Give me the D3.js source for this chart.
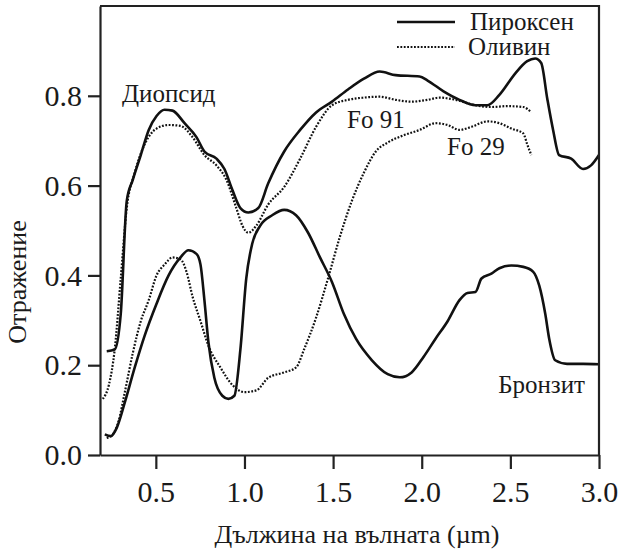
<!DOCTYPE html>
<html>
<head>
<meta charset="utf-8">
<script src="https://cdn.jsdelivr.net/npm/d3@7"></script>
<style>
body{margin:0;background:#fff;}
svg text{font-family:"Liberation Serif","Times New Roman",serif;fill:#1a1a1a;}
</style>
</head>
<body>
<div id="chart"></div>
<script>
const width=621;
const height=551;
// wavelength (um) / reflectance pairs
const diopsideX=[0.223,0.268,0.302,0.336,0.370,0.415,0.460,0.504,0.549,0.594,0.662,0.729,0.774,0.842,0.887,0.932,0.977,1.022,1.078,1.134,1.224,1.314,1.404,1.494,1.584,1.674,1.763,1.853,1.988,2.033,2.123,2.213,2.303,2.371,2.438,2.528,2.595,2.640,2.674,2.708,2.741,2.775,2.843,2.910,2.955,3.000];
const diopsideY=[0.231,0.235,0.314,0.566,0.613,0.668,0.724,0.755,0.769,0.767,0.739,0.708,0.676,0.660,0.637,0.590,0.550,0.540,0.550,0.605,0.676,0.724,0.763,0.787,0.814,0.838,0.854,0.846,0.843,0.834,0.810,0.791,0.779,0.779,0.802,0.850,0.877,0.883,0.873,0.794,0.724,0.668,0.660,0.637,0.645,0.668];
const bronziteX=[0.212,0.246,0.280,0.325,0.381,0.437,0.504,0.572,0.639,0.684,0.729,0.752,0.774,0.797,0.830,0.875,0.909,0.943,0.977,1.010,1.044,1.089,1.156,1.224,1.291,1.359,1.426,1.494,1.561,1.629,1.719,1.808,1.876,1.943,2.011,2.078,2.146,2.213,2.258,2.303,2.337,2.393,2.438,2.506,2.573,2.629,2.663,2.697,2.719,2.753,2.820,2.910,3.000];
const bronziteY=[0.046,0.042,0.061,0.117,0.195,0.266,0.337,0.400,0.440,0.456,0.448,0.424,0.345,0.250,0.172,0.132,0.125,0.132,0.235,0.393,0.471,0.511,0.534,0.546,0.534,0.495,0.440,0.385,0.314,0.259,0.211,0.180,0.173,0.184,0.219,0.259,0.298,0.345,0.361,0.363,0.393,0.404,0.416,0.422,0.419,0.408,0.377,0.314,0.259,0.211,0.203,0.203,0.202];
const fo91X=[0.201,0.235,0.268,0.302,0.336,0.381,0.437,0.504,0.572,0.639,0.707,0.774,0.842,0.898,0.954,0.988,1.022,1.067,1.134,1.224,1.314,1.404,1.494,1.584,1.674,1.763,1.853,1.943,2.033,2.101,2.191,2.303,2.393,2.483,2.573,2.618];
const fo91Y=[0.125,0.156,0.235,0.393,0.550,0.629,0.692,0.727,0.735,0.733,0.708,0.668,0.645,0.613,0.550,0.511,0.495,0.511,0.558,0.597,0.660,0.731,0.779,0.791,0.796,0.798,0.791,0.787,0.791,0.796,0.791,0.779,0.775,0.777,0.775,0.763];
const fo29X=[0.223,0.257,0.291,0.325,0.370,0.415,0.460,0.504,0.549,0.594,0.639,0.673,0.707,0.752,0.797,0.864,0.932,0.999,1.067,1.134,1.224,1.291,1.336,1.404,1.471,1.539,1.606,1.674,1.741,1.808,1.898,1.988,2.078,2.146,2.213,2.281,2.371,2.438,2.506,2.573,2.595,2.618];
const fo29Y=[0.038,0.046,0.077,0.140,0.227,0.298,0.345,0.400,0.424,0.440,0.436,0.408,0.353,0.298,0.243,0.195,0.156,0.140,0.144,0.172,0.184,0.195,0.235,0.306,0.393,0.487,0.566,0.629,0.676,0.696,0.712,0.724,0.739,0.735,0.724,0.731,0.743,0.739,0.727,0.716,0.692,0.668];
const xTicks=[0.5,1.0,1.5,2.0,2.5,3.0];
const yTicks=[0.0,0.2,0.4,0.6,0.8];
const curveNames=["Диопсид","Fo 91","Fo 29","Бронзит"];
const curveLabelX=[0.309,1.579,2.143,2.431];
const curveLabelY=[0.787,0.729,0.669,0.138];
const legendNames=["Пироксен","Оливин"];

const svg=d3.select("#chart").append("svg")
    .attr("width",width).attr("height",height);
const xscale=d3.scaleLinear().domain([0.185,3.0]).range([100,599]);
const yscale=d3.scaleLinear().domain([0,1.0]).range([455,6]);

const series=[
    {x:diopsideX,y:diopsideY,dotted:false},
    {x:bronziteX,y:bronziteY,dotted:false},
    {x:fo91X,y:fo91Y,dotted:true},
    {x:fo29X,y:fo29Y,dotted:true}
];
const line=d3.line().x(d=>xscale(d[0])).y(d=>yscale(d[1])).curve(d3.curveMonotoneX);
series.forEach(s=>{
    svg.append("path")
        .datum(s.x.map((v,i)=>[v,s.y[i]]))
        .attr("fill","none")
        .attr("stroke","#111")
        .attr("stroke-width",s.dotted?2.2:2.6)
        .attr("stroke-dasharray",s.dotted?"1.8 1.6":null)
        .attr("stroke-linejoin","round")
        .attr("d",line);
});

// frame
svg.append("path")
    .attr("d",`M${xscale.range()[0]},${yscale(1)}H${xscale.range()[1]}V${yscale(0)}`)
    .attr("fill","none").attr("stroke","#222").attr("stroke-width",2.2);

const xaxis=svg.append("g")
    .attr("transform",`translate(0,${yscale(0)})`)
    .call(d3.axisBottom(xscale).tickValues(xTicks).tickFormat(d3.format(".1f")).tickSize(14).tickPadding(12).tickSizeOuter(0));
const yaxis=svg.append("g")
    .attr("transform",`translate(${xscale.range()[0]},0)`)
    .call(d3.axisLeft(yscale).tickValues(yTicks).tickFormat(d3.format(".1f")).tickSize(12).tickPadding(6).tickSizeOuter(0));
[xaxis,yaxis].forEach(g=>{
    g.select(".domain").attr("stroke","#222").attr("stroke-width",2.2);
    g.selectAll(".tick line").attr("stroke","#222").attr("stroke-width",2.2);
    g.selectAll(".tick text").attr("font-size",30).attr("fill","#1a1a1a")
        .style("font-family",'"Liberation Serif",serif');
});

svg.append("text")
    .attr("x",357).attr("y",543)
    .attr("text-anchor","middle").attr("font-size",26)
    .text("Дължина на вълната (µm)");
svg.append("text")
    .attr("transform","translate(26,282) rotate(-90)")
    .attr("text-anchor","middle").attr("font-size",26)
    .text("Отражение");

svg.selectAll(".clabel")
    .data(curveNames)
    .enter().append("text")
    .attr("class","clabel")
    .attr("x",(d,i)=>xscale(curveLabelX[i]))
    .attr("y",(d,i)=>yscale(curveLabelY[i]))
    .attr("font-size",25)
    .text(d=>d);

// legend
const legend=svg.selectAll(".legend")
    .data(legendNames)
    .enter().append("g")
    .attr("class","legend")
    .attr("transform",(d,i)=>`translate(397,${22+i*25})`);
legend.append("line")
    .attr("x1",0).attr("x2",58).attr("y1",0).attr("y2",0)
    .attr("stroke","#111")
    .attr("stroke-width",(d,i)=>i?2.2:2.6)
    .attr("stroke-dasharray",(d,i)=>i?"1.8 1.6":null);
legend.append("text")
    .attr("x",(d,i)=>i?71:73).attr("y",8)
    .attr("font-size",25)
    .text(d=>d);
</script>
</body>
</html>
